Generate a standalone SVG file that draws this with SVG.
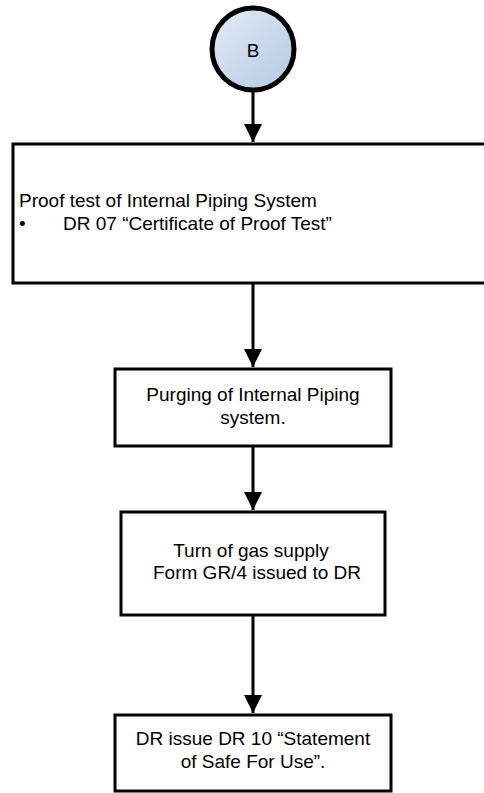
<svg xmlns="http://www.w3.org/2000/svg" width="484" height="793" viewBox="0 0 484 793">
<style>
.box{fill:#ffffff;stroke:#000000;stroke-width:3}
.t{font-family:"Liberation Sans",Arial,sans-serif;font-size:19px;fill:#000000}
.c{text-anchor:middle}
.conn{stroke:#000000;stroke-width:3;fill:none}
</style>
<defs>
<linearGradient id="g" x1="0" y1="0" x2="1" y2="1">
<stop offset="0" stop-color="#e4ecf6"/>
<stop offset="1" stop-color="#b3c8e3"/>
</linearGradient>
<marker id="ah" markerWidth="6" markerHeight="6" refX="6" refY="3" orient="auto" markerUnits="strokeWidth">
<path d="M0,0 L6,3 L0,6 Z" fill="#000000"/>
</marker>
</defs>
<rect width="484" height="793" fill="#ffffff"/>
<g id="connectors">
<line class="conn" x1="253" y1="92" x2="253" y2="142" marker-end="url(#ah)"/>
<line class="conn" x1="253" y1="284" x2="253" y2="367" marker-end="url(#ah)"/>
<line class="conn" x1="253" y1="447" x2="253" y2="510" marker-end="url(#ah)"/>
<line class="conn" x1="253" y1="616" x2="253" y2="713" marker-end="url(#ah)"/>
</g>
<g id="nodeB">
<circle cx="253" cy="49" r="41" fill="url(#g)" stroke="#000000" stroke-width="5"/>
<text class="t c" x="253" y="57">B</text>
</g>
<g id="node1">
<rect class="box" x="13" y="144" width="490" height="139"/>
<text class="t" x="19" y="207">Proof test of Internal Piping System</text>
<text class="t" x="19" y="230">•</text>
<text class="t" x="63" y="230">DR 07 “Certificate of Proof Test”</text>
</g>
<g id="node2">
<rect class="box" x="115" y="369" width="276" height="77"/>
<text class="t c" x="253" y="401">Purging of Internal Piping</text>
<text class="t c" x="253" y="424">system.</text>
</g>
<g id="node3">
<rect class="box" x="121" y="512" width="264" height="103"/>
<text class="t c" x="251" y="557">Turn of gas supply</text>
<text class="t c" x="257" y="579">Form GR/4 issued to DR</text>
</g>
<g id="node4">
<rect class="box" x="115" y="715" width="276" height="76"/>
<text class="t c" x="253" y="745">DR issue DR 10 “Statement</text>
<text class="t c" x="253" y="768">of Safe For Use”.</text>
</g>
</svg>
